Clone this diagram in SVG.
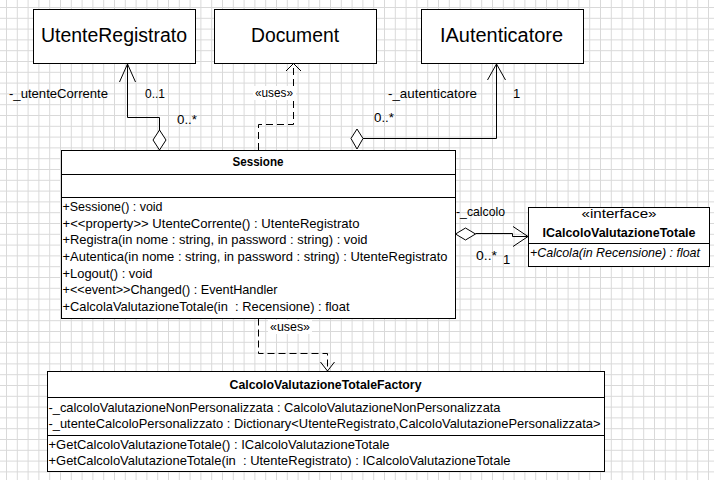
<svg xmlns="http://www.w3.org/2000/svg" width="714" height="480" viewBox="0 0 714 480">
<style>
.box{fill:#fff;stroke:#000;stroke-width:1}
.ln{fill:none;stroke:#000;stroke-width:1}
.dash{fill:none;stroke:#000;stroke-width:1;stroke-dasharray:7 4}
.dia{fill:#fff;stroke:#000;stroke-width:1}
text{font-family:"Liberation Sans",Arial,sans-serif;fill:#000}
.big{font-size:19.5px}
.t{font-size:13px}
.b{font-size:13px;font-weight:bold}
.i{font-size:13px;font-style:italic}
</style>
<defs>
<pattern id="grid" patternUnits="userSpaceOnUse" x="6" y="7" width="10.8" height="10.8">
<path d="M0 0.5H10.8M0.5 0V10.8" fill="none" stroke="#d9d9d9" stroke-width="1"/>
</pattern>
</defs>
<rect width="714" height="480" fill="#fff"/>
<rect width="714" height="480" fill="url(#grid)"/>

<g id="connectors">
<g id="c-utente">
<polyline class="ln" points="159.5,130 159.5,117.5 127.5,117.5 127.5,64"/>
<polyline class="ln" points="119.5,82 127.5,64 135.5,82"/>
<polygon class="dia" points="159.5,130 166,140 159.5,150 153,140"/>
<text class="t" x="9" y="98" textLength="99" lengthAdjust="spacingAndGlyphs">-_utenteCorrente</text>
<text class="t" x="145" y="98" textLength="20" lengthAdjust="spacingAndGlyphs">0..1</text>
<text class="t" x="177" y="124" textLength="20" lengthAdjust="spacingAndGlyphs">0..*</text>
</g>
<g id="c-document">
<polyline class="dash" points="258.5,150 258.5,124.5 293.5,124.5 293.5,64"/>
<polyline class="ln" points="286,71 293.5,63.5 301,71"/>
<rect x="253" y="86" width="43" height="14" fill="#fff"/>
<text class="t" x="255" y="97" textLength="38" lengthAdjust="spacingAndGlyphs">«uses»</text>
</g>
<g id="c-autenticatore">
<polyline class="ln" points="363,138.5 496.5,138.5 496.5,64"/>
<polyline class="ln" points="487.5,80 496.5,64 505.5,80"/>
<polygon class="dia" points="357,129 363,138.5 357,149 351,138.5"/>
<text class="t" x="388" y="98" textLength="89" lengthAdjust="spacingAndGlyphs">-_autenticatore</text>
<text class="t" x="513" y="98">1</text>
<text class="t" x="374" y="122" textLength="20" lengthAdjust="spacingAndGlyphs">0..*</text>
</g>
<g id="c-calcolo">
<polygon class="dia" points="455.5,234 465.5,228 475.5,234 465.5,240"/>
<polyline class="ln" points="475.5,233.5 512.5,233.5 512.5,236.5 528,236.5"/>
<polyline class="ln" points="513,226.5 528,236.5 513,246.5"/>
<text class="t" x="456" y="216" textLength="49" lengthAdjust="spacingAndGlyphs">-_calcolo</text>
<text class="t" x="476" y="260" textLength="21" lengthAdjust="spacingAndGlyphs">0..*</text>
<text class="t" x="503" y="264">1</text>
</g>
<g id="c-factory">
<polyline class="dash" points="258.5,318.5 258.5,353.5 327.5,353.5 327.5,371"/>
<polyline class="ln" points="320.5,362 327.5,371 334.5,362"/>
<rect x="268" y="320" width="44" height="14" fill="#fff"/>
<text class="t" x="270" y="331" textLength="40" lengthAdjust="spacingAndGlyphs">«uses»</text>
</g>
</g>

<g id="UtenteRegistrato">
<rect class="box" x="33.5" y="9.5" width="162" height="54"/>
<text class="big" x="114" y="42" text-anchor="middle" textLength="146" lengthAdjust="spacingAndGlyphs">UtenteRegistrato</text>
</g>
<g id="Document">
<rect class="box" x="214.5" y="9.5" width="162" height="54"/>
<text class="big" x="295" y="42" text-anchor="middle" textLength="88" lengthAdjust="spacingAndGlyphs">Document</text>
</g>
<g id="IAutenticatore">
<rect class="box" x="421.5" y="9.5" width="162" height="54"/>
<text class="big" x="501.5" y="42" text-anchor="middle" textLength="123" lengthAdjust="spacingAndGlyphs">IAutenticatore</text>
</g>

<g id="Sessione">
<rect class="box" x="61.5" y="150.5" width="394" height="168"/>
<line class="ln" x1="61.5" y1="174.5" x2="455.5" y2="174.5"/>
<line class="ln" x1="61.5" y1="197.5" x2="455.5" y2="197.5"/>
<text class="b" x="258" y="166" text-anchor="middle" textLength="51" lengthAdjust="spacingAndGlyphs">Sessione</text>
<text class="t" x="62.5" y="211" textLength="100" lengthAdjust="spacingAndGlyphs">+Sessione() : void</text>
<text class="t" x="62.5" y="227.7" textLength="297" lengthAdjust="spacingAndGlyphs">+&lt;&lt;property&gt;&gt; UtenteCorrente() : UtenteRegistrato</text>
<text class="t" x="62.5" y="244.3" textLength="305" lengthAdjust="spacingAndGlyphs">+Registra(in nome : string, in password : string) : void</text>
<text class="t" x="62.5" y="261" textLength="385" lengthAdjust="spacingAndGlyphs">+Autentica(in nome : string, in password : string) : UtenteRegistrato</text>
<text class="t" x="62.5" y="277.7" textLength="90" lengthAdjust="spacingAndGlyphs">+Logout() : void</text>
<text class="t" x="62.5" y="294.3" textLength="215" lengthAdjust="spacingAndGlyphs">+&lt;&lt;event&gt;&gt;Changed() : EventHandler</text>
<text class="t" x="62.5" y="311" textLength="287" lengthAdjust="spacingAndGlyphs" xml:space="preserve">+CalcolaValutazioneTotale(in  : Recensione) : float</text>
</g>

<g id="ICalcoloValutazioneTotale">
<rect class="box" x="528.5" y="207.5" width="181" height="59"/>
<line class="ln" x1="528.5" y1="243.5" x2="709.5" y2="243.5"/>
<text class="t" x="619" y="218" text-anchor="middle" textLength="75" lengthAdjust="spacingAndGlyphs">«interface»</text>
<text class="b" x="619" y="237" text-anchor="middle" textLength="153" lengthAdjust="spacingAndGlyphs">ICalcoloValutazioneTotale</text>
<text class="i" x="530" y="257" textLength="170" lengthAdjust="spacingAndGlyphs">+Calcola(in Recensione) : float</text>
</g>

<g id="CalcoloValutazioneTotaleFactory">
<rect class="box" x="47.5" y="371.5" width="557" height="100"/>
<line class="ln" x1="47.5" y1="397.5" x2="604.5" y2="397.5"/>
<line class="ln" x1="47.5" y1="435.5" x2="604.5" y2="435.5"/>
<text class="b" x="325.5" y="389" text-anchor="middle" textLength="192" lengthAdjust="spacingAndGlyphs">CalcoloValutazioneTotaleFactory</text>
<text class="t" x="48.5" y="412" textLength="452" lengthAdjust="spacingAndGlyphs">-_calcoloValutazioneNonPersonalizzata : CalcoloValutazioneNonPersonalizzata</text>
<text class="t" x="48.5" y="428" textLength="552" lengthAdjust="spacingAndGlyphs">-_utenteCalcoloPersonalizzato : Dictionary&lt;UtenteRegistrato,CalcoloValutazionePersonalizzata&gt;</text>
<text class="t" x="48.5" y="449" textLength="341" lengthAdjust="spacingAndGlyphs">+GetCalcoloValutazioneTotale() : ICalcoloValutazioneTotale</text>
<text class="t" x="48.5" y="465" textLength="462" lengthAdjust="spacingAndGlyphs" xml:space="preserve">+GetCalcoloValutazioneTotale(in  : UtenteRegistrato) : ICalcoloValutazioneTotale</text>
</g>
</svg>
